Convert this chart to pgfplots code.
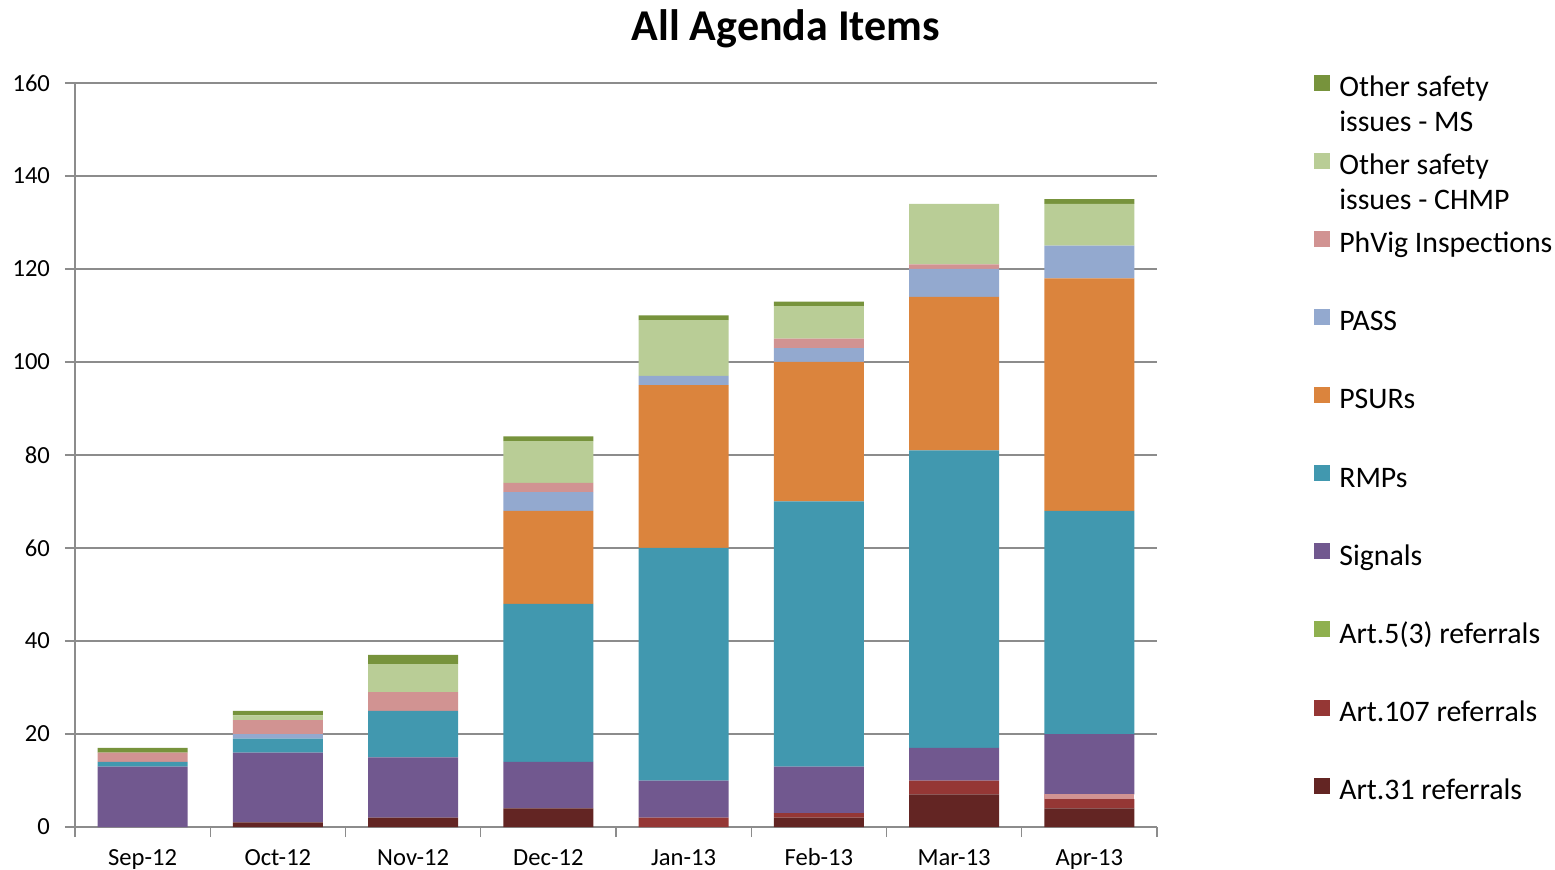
\documentclass[border=0pt]{standalone}
\usepackage{fontspec}
\setmainfont{Carlito}
\usepackage{pgfplots}
\pgfplotsset{compat=1.18}
\definecolor{cAa}{HTML}{632523}
\definecolor{cAb}{HTML}{953735}
\definecolor{cAc}{HTML}{8FB04F}
\definecolor{cSig}{HTML}{71588F}
\definecolor{cRmp}{HTML}{4198AF}
\definecolor{cPsu}{HTML}{DB843D}
\definecolor{cPas}{HTML}{93A9CF}
\definecolor{cPhv}{HTML}{D19392}
\definecolor{cChm}{HTML}{B9CD96}
\definecolor{cMs}{HTML}{77933C}
\definecolor{gridc}{HTML}{8C8C8C}
\newcommand{\twoline}[2]{\smash{\vtop{\hbox{#1}\hbox{#2}}}}
\begin{document}
\begin{tikzpicture}
\path[use as bounding box] (0,0) rectangle (777.5pt,434.5pt);
\begin{axis}[
  at={(37.5pt,21pt)}, anchor=south west,
  scale only axis, width=541pt, height=372pt,
  ybar stacked, bar width=45pt,
  xmin=-0.5, xmax=7.5, ymin=0, ymax=160,
  xtick={0,1,2,3,4,5,6,7},
  xticklabels={Sep-12,Oct-12,Nov-12,Dec-12,Jan-13,Feb-13,Mar-13,Apr-13},
  minor xtick={-0.5,0.5,1.5,2.5,3.5,4.5,5.5,6.5,7.5},
  ytick={0,20,40,60,80,100,120,140,160},
  axis x line*=bottom, axis y line*=left,
  tick align=outside,
  major x tick style={draw=none},
  major tick length=5pt, minor tick length=5pt,
  every tick/.style={gridc, line width=0.7pt},
  axis line style={gridc, line width=0.7pt},
  ymajorgrids, grid style={gridc, line width=0.7pt},
  /pgf/number format/assume math mode=true,
  tick label style={font=\fontsize{12.3}{14}\selectfont},
  xticklabel style={yshift=-2pt, text height=8.5pt, text depth=1.5pt},
  yticklabel style={xshift=-4pt},
  clip=false,
  every axis plot/.append style={draw=none,
    legend image code/.code={\fill[##1] (0pt,-0.6pt) rectangle (8pt,7.4pt);}},
  reverse legend,
  legend style={at={(1.1395,1.017)}, anchor=north west, draw=none, fill=none,
    font=\fontsize{14.9}{17.5}\selectfont, legend cell align=left, row sep=25.15pt,
    nodes={inner ysep=0pt, inner xsep=4.5pt, text height=10pt, text depth=3pt}},
]
\addplot[fill=cAa] coordinates {(0,0) (1,1) (2,2) (3,4) (4,0) (5,2) (6,7) (7,4)};
\addlegendentry{Art.31 referrals}
\addplot[fill=cAb] coordinates {(0,0) (1,0) (2,0) (3,0) (4,2) (5,1) (6,3) (7,2)};
\addlegendentry{Art.107 referrals}
\addplot[fill=cPhv, forget plot] coordinates {(0,0) (1,0) (2,0) (3,0) (4,0) (5,0) (6,0) (7,1)};
\addplot[fill=cAc] coordinates {(0,0) (1,0) (2,0) (3,0) (4,0) (5,0) (6,0) (7,0)};
\addlegendentry{Art.5(3) referrals}
\addplot[fill=cSig] coordinates {(0,13) (1,15) (2,13) (3,10) (4,8) (5,10) (6,7) (7,13)};
\addlegendentry{Signals}
\addplot[fill=cRmp] coordinates {(0,1) (1,3) (2,10) (3,34) (4,50) (5,57) (6,64) (7,48)};
\addlegendentry{RMPs}
\addplot[fill=cPsu] coordinates {(0,0) (1,0) (2,0) (3,20) (4,35) (5,30) (6,33) (7,50)};
\addlegendentry{PSURs}
\addplot[fill=cPas] coordinates {(0,0) (1,1) (2,0) (3,4) (4,2) (5,3) (6,6) (7,7)};
\addlegendentry{PASS}
\addplot[fill=cPhv] coordinates {(0,2) (1,3) (2,4) (3,2) (4,0) (5,2) (6,1) (7,0)};
\addlegendentry{PhVig Inspections}
\addplot[fill=cChm] coordinates {(0,0) (1,1) (2,6) (3,9) (4,12) (5,7) (6,13) (7,9)};
\addlegendentry{\twoline{Other safety}{issues - CHMP}}
\addplot[fill=cMs] coordinates {(0,1) (1,1) (2,2) (3,1) (4,1) (5,1) (6,0) (7,1)};
\addlegendentry{\twoline{Other safety}{issues - MS}}
\node[font=\bfseries\fontsize{22}{26}\selectfont, anchor=base, inner sep=0pt] at (rel axis cs:0.657,1.0565) {All Agenda Items};
\end{axis}
\end{tikzpicture}
\end{document}
